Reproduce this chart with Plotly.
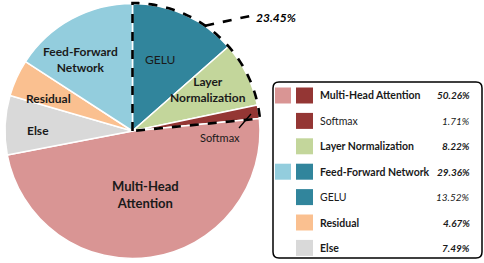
import math
import plotly.graph_objects as go

W, H = 484, 263

# ---- data ----
slice_labels = ["GELU", "Layer Normalization", "Softmax", "Multi-Head Attention", "Else", "Residual", "Feed-Forward Network"]
mha_total = 50.26
softmax = 1.71
layer_norm = 8.22
ffn_total = 29.36
gelu = 13.52
residual = 4.67
else_v = 7.49
slice_values = [gelu, layer_norm, softmax, mha_total - softmax, else_v, residual, ffn_total - gelu]
slice_colors = ["#31859C", "#C3D69B", "#943634", "#D99594", "#D9D9D9", "#FAC090", "#93CDDD"]

legend_names = ["Multi-Head Attention", "Softmax", "Layer Normalization", "Feed-Forward Network", "GELU", "Residual", "Else"]
legend_vals = [mha_total, softmax, layer_norm, ffn_total, gelu, residual, else_v]
legend_main = [True, False, True, True, False, True, True]
legend_light = ["#D99594", None, None, "#93CDDD", None, None, None]
legend_dark = ["#943634", "#943634", "#C3D69B", "#31859C", "#31859C", "#FAC090", "#D9D9D9"]
highlight_total = gelu + layer_norm + softmax

FONT = "Lato"


def px(x):
    return x / W


def py(y):
    return 1 - y / H


# pie geometry (pixels)
x0, x1, y0, y1 = 5, 260, 3, 259
cx, cy = (x0 + x1) / 2, (y0 + y1) / 2
R = min(x1 - x0, y1 - y0) / 2

fig = go.Figure()
fig.add_trace(go.Pie(
    labels=slice_labels, values=slice_values, sort=False, direction="clockwise", rotation=0,
    marker=dict(colors=slice_colors, line=dict(color="white", width=1.5)),
    textinfo="none", hoverinfo="label+percent", showlegend=False,
    domain=dict(x=[px(x0), px(x1)], y=[py(y1), py(y0)]),
))

shapes = []
annotations = []

# dashed outline around GELU + Layer Norm + Softmax wedge
end_ang = highlight_total / 100 * 2 * math.pi
Rr = R + 0.5
pts = [(cx, cy)]
n = 60
for i in range(n + 1):
    a = end_ang * i / n
    pts.append((cx + Rr * math.sin(a), cy - Rr * math.cos(a)))
path = "M " + " L ".join(f"{px(x):.5f},{py(y):.5f}" for x, y in pts) + " Z"
shapes.append(dict(type="path", path=path, xref="paper", yref="paper",
                   line=dict(color="black", width=2.6, dash="dash"), layer="above"))

# leader to total label
la = end_ang * 0.41
lx, ly = cx + Rr * math.sin(la), cy - Rr * math.cos(la)
shapes.append(dict(type="line", xref="paper", yref="paper", x0=px(lx), y0=py(ly), x1=px(250), y1=py(16),
                   line=dict(color="black", width=2.6, dash="dash"), layer="above"))
annotations.append(dict(x=px(254), y=py(17), xref="paper", yref="paper", xanchor="left", yanchor="middle",
                        text=f"<b><i>{highlight_total:.2f}%</i></b>", showarrow=False,
                        font=dict(family=FONT, size=12, color="black")))

# softmax leader
shapes.append(dict(type="line", xref="paper", yref="paper", x0=px(239), y0=py(128), x1=px(251), y1=py(114),
                   line=dict(color="black", width=1.3), layer="above"))

# in-pie labels
inner = [
    ("GELU", 160, 60, False, 12),
    ("Layer<br>Normalization", 208, 89, True, 12),
    ("Softmax", 220, 137, False, 11),
    ("Feed-Forward<br>Network", 80, 60, True, 12),
    ("Residual", 48, 98, True, 12),
    ("Else", 38, 131, True, 12),
    ("Multi-Head<br>Attention", 145, 194, True, 13),
]
for t, x, y, b, s in inner:
    annotations.append(dict(x=px(x), y=py(y), xref="paper", yref="paper", xanchor="center", yanchor="middle",
                            text=f"<b>{t}</b>" if b else t, showarrow=False,
                            font=dict(family=FONT, size=s, color="#1a1a1a"), align="center"))

# legend box (rounded)
bx0, by0, bx1, by1, rr = 273, 82, 482, 258, 6
box = (f"M {px(bx0 + rr)},{py(by0)} L {px(bx1 - rr)},{py(by0)} Q {px(bx1)},{py(by0)} {px(bx1)},{py(by0 + rr)} "
       f"L {px(bx1)},{py(by1 - rr)} Q {px(bx1)},{py(by1)} {px(bx1 - rr)},{py(by1)} "
       f"L {px(bx0 + rr)},{py(by1)} Q {px(bx0)},{py(by1)} {px(bx0)},{py(by1 - rr)} "
       f"L {px(bx0)},{py(by0 + rr)} Q {px(bx0)},{py(by0)} {px(bx0 + rr)},{py(by0)} Z")
shapes.append(dict(type="path", path=box, xref="paper", yref="paper", line=dict(color="black", width=1.5),
                   fillcolor="white", layer="above"))

row0, step = 95.5, 25.4
for i, name in enumerate(legend_names):
    yc = row0 + i * step
    if legend_light[i]:
        shapes.append(dict(type="rect", xref="paper", yref="paper", x0=px(275), x1=px(291), y0=py(yc - 8), y1=py(yc + 8),
                           fillcolor=legend_light[i], line=dict(width=0), layer="above"))
    shapes.append(dict(type="rect", xref="paper", yref="paper", x0=px(296), x1=px(313), y0=py(yc - 8), y1=py(yc + 8),
                       fillcolor=legend_dark[i], line=dict(width=0), layer="above"))
    b = legend_main[i]
    annotations.append(dict(x=px(318), y=py(yc), xref="paper", yref="paper", xanchor="left", yanchor="middle",
                            text=f"<b>{name}</b>" if b else name, showarrow=False,
                            font=dict(family=FONT, size=10.5, color="#1a1a1a")))
    v = f"{legend_vals[i]:.2f}%"
    annotations.append(dict(x=px(472), y=py(yc), xref="paper", yref="paper", xanchor="right", yanchor="middle",
                            text=f"<b><i>{v}</i></b>" if b else f"<i>{v}</i>", showarrow=False,
                            font=dict(family=FONT, size=10, color="#1a1a1a")))

fig.update_layout(width=W, height=H, margin=dict(l=0, r=0, t=0, b=0), paper_bgcolor="white",
                  plot_bgcolor="white", shapes=shapes, annotations=annotations, showlegend=False)
fig.write_html("out.html", config={"displayModeBar": False},
               post_script="document.body.style.margin='0';document.body.style.overflow='hidden';")
